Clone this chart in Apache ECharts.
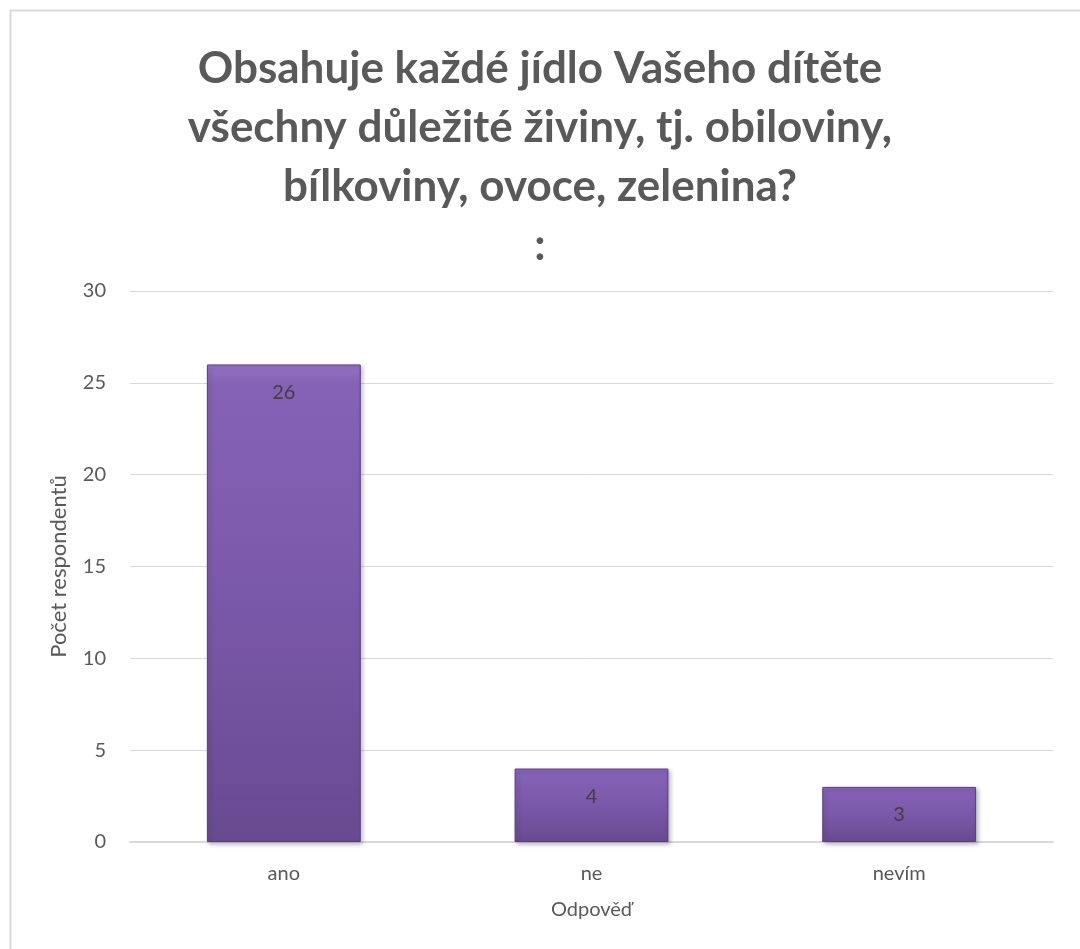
<!DOCTYPE html>
<html>
<head>
<meta charset="utf-8">
<script src="https://cdn.jsdelivr.net/npm/echarts@6/dist/echarts.min.js"></script>
<style>
  html, body { margin: 0; padding: 0; background: #ffffff; }
  #chart { width: 1080px; height: 949px; }
</style>
</head>
<body>
<div id="chart"></div>
<script>
// Survey answers and respondent counts
const categories = ['ano', 'ne', 'nevím'];
const counts = [26, 4, 3];

const titleLines = [
  'Obsahuje každé jídlo Vašeho dítěte',
  'všechny důležité živiny, tj. obiloviny,',
  'bílkoviny, ovoce, zelenina?',
  ':'
];
const xAxisName = 'Odpověď';
const yAxisName = 'Počet respondentů';
const yMin = 0, yMax = 30, yStep = 5;

const FONT = 'Lato, "Open Sans", sans-serif';
const chart = echarts.init(document.getElementById('chart'), null, { renderer: 'canvas' });

chart.setOption({
  backgroundColor: '#ffffff',
  animation: false,
  graphic: [
    {
      type: 'rect',
      shape: { x: 10.5, y: 10.5, width: 1090, height: 960 },
      style: { fill: 'none', stroke: '#d9d9d9', lineWidth: 2 },
      silent: true
    },
    {
      type: 'text',
      x: 540,
      y: 39,
      style: {
        text: titleLines.join('\n'),
        align: 'center',
        verticalAlign: 'top',
        font: 'bold 44px ' + FONT,
        lineHeight: 59,
        fill: '#595959'
      },
      silent: true
    }
  ],
  grid: { left: 130, right: 27, top: 291, bottom: 107, containLabel: false },
  xAxis: {
    type: 'category',
    data: categories,
    name: xAxisName,
    nameLocation: 'middle',
    nameGap: 58,
    nameTextStyle: { fontFamily: FONT, fontSize: 20, color: '#595959' },
    axisLine: { lineStyle: { color: '#d9d9d9', width: 2 } },
    axisTick: { show: false },
    axisLabel: { fontFamily: FONT, fontSize: 20, color: '#595959', margin: 22 }
  },
  yAxis: {
    type: 'value',
    min: yMin,
    max: yMax,
    interval: yStep,
    name: yAxisName,
    nameLocation: 'middle',
    nameGap: 60,
    nameRotate: 90,
    nameTextStyle: { fontFamily: FONT, fontSize: 22, color: '#595959' },
    axisLine: { show: false },
    axisTick: { show: false },
    axisLabel: { fontFamily: FONT, fontSize: 20, color: '#595959', margin: 24 },
    splitLine: { lineStyle: { color: '#d9d9d9', width: 1 } }
  },
  series: [{
    type: 'bar',
    data: counts,
    barCategoryGap: '50%',
    itemStyle: {
      color: new echarts.graphic.LinearGradient(0, 0, 0, 1, [
        { offset: 0, color: '#9572c4' },
        { offset: 0.04, color: '#8562b6' },
        { offset: 0.5, color: '#7a58a9' },
        { offset: 1, color: '#684a90' }
      ]),
      borderColor: '#5a3e80',
      borderWidth: 1,
      shadowColor: 'rgba(0,0,0,0.25)',
      shadowBlur: 4,
      shadowOffsetX: 2,
      shadowOffsetY: 2
    },
    label: {
      show: true,
      position: 'insideTop',
      distance: 18,
      fontFamily: FONT,
      fontSize: 20,
      color: '#404040'
    }
  }]
});
</script>
</body>
</html>
